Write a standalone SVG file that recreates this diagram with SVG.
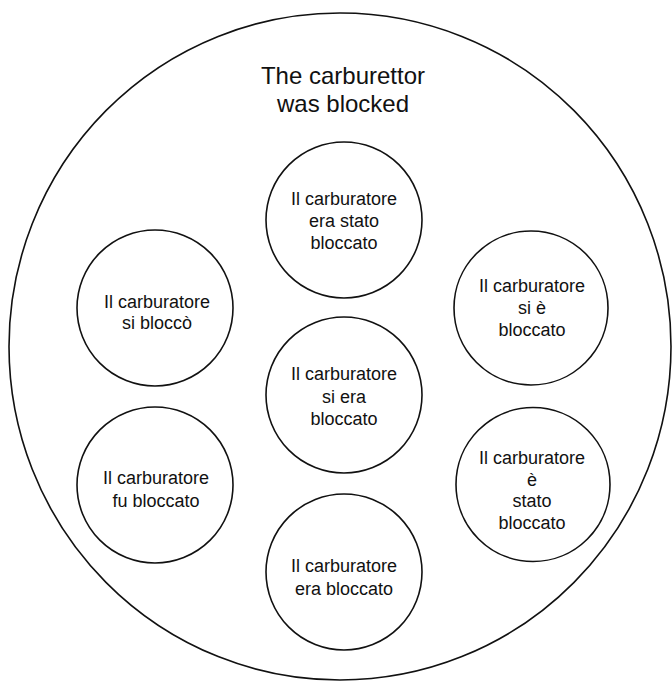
<svg xmlns="http://www.w3.org/2000/svg" width="672" height="682" viewBox="0 0 672 682">
<style>
.c{fill:#fff;stroke:#111;stroke-width:1.6}
.o{fill:#fff;stroke:#111;stroke-width:1.6}
text{font-family:"Liberation Sans",Arial,sans-serif;fill:#111;text-anchor:middle}
.t{font-size:24px}
.s{font-size:18px}
</style>
<rect width="672" height="682" fill="#fff"/>
<g id="outer">
<ellipse class="o" cx="340" cy="346.5" rx="331" ry="333.5"/>
<text class="t" x="343" y="84">The carburettor</text>
<text class="t" x="343" y="112">was blocked</text>
</g>
<g id="connectors"></g>
<g id="n-top">
<circle class="c" cx="344" cy="220" r="78"/>
<text class="s" x="344" y="205">Il carburatore</text>
<text class="s" x="344" y="227">era stato</text>
<text class="s" x="344" y="249">bloccato</text>
</g>
<g id="n-left-upper">
<circle class="c" cx="155" cy="308" r="78"/>
<text class="s" x="157" y="308">Il carburatore</text>
<text class="s" x="157" y="329">si bloccò</text>
</g>
<g id="n-right-upper">
<circle class="c" cx="531" cy="308" r="77"/>
<text class="s" x="532" y="292">Il carburatore</text>
<text class="s" x="532" y="314">si è</text>
<text class="s" x="532" y="336">bloccato</text>
</g>
<g id="n-center">
<circle class="c" cx="344" cy="395" r="78"/>
<text class="s" x="344" y="380">Il carburatore</text>
<text class="s" x="344" y="403">si era</text>
<text class="s" x="344" y="425">bloccato</text>
</g>
<g id="n-left-lower">
<circle class="c" cx="155" cy="485" r="78"/>
<text class="s" x="156" y="484">Il carburatore</text>
<text class="s" x="156" y="507">fu bloccato</text>
</g>
<g id="n-right-lower">
<circle class="c" cx="533" cy="484.5" r="77"/>
<text class="s" x="532" y="464">Il carburatore</text>
<text class="s" x="532" y="486">è</text>
<text class="s" x="532" y="507">stato</text>
<text class="s" x="532" y="529">bloccato</text>
</g>
<g id="n-bottom">
<circle class="c" cx="344" cy="572" r="78"/>
<text class="s" x="344" y="572">Il carburatore</text>
<text class="s" x="344" y="595">era bloccato</text>
</g>
</svg>
